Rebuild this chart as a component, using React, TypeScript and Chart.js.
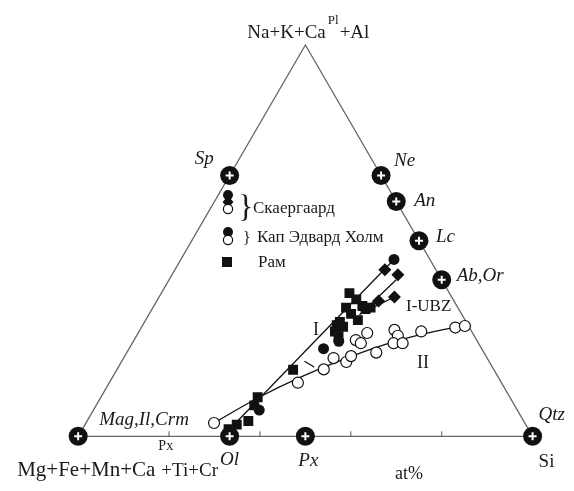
import { useEffect, useRef } from "react";
import { Chart, registerables } from "chart.js";
Chart.register(...registerables);

// Ternary compositions, at%: [Na+K+Ca(Pl)+Al, Si]; remainder = Mg+Fe+Mn+Ca(Px)+Ti+Cr
const skaergaardCircles = [[45.2, 46.9], [22.4, 42.8], [6.7, 36.5], [24.3, 45.2]];
const skaergaardDiamonds = [[42.6, 46.2], [41.3, 49.7], [35.6, 51.8], [34.6, 48.8]];
const ramSquares = [
  [36.6, 41.4], [35.0, 43.7], [32.9, 42.5], [33.3, 45.9], [32.5, 47.0], [32.9, 47.9],
  [31.3, 44.4], [29.7, 46.7], [29.2, 43.0], [28.4, 42.7], [28.0, 44.3], [26.8, 43.1],
  [25.6, 44.5], [17.0, 38.8], [10.0, 34.5], [7.9, 34.8], [3.9, 35.5], [3.0, 33.4], [1.8, 32.2],
];
const openCircles = [
  [3.4, 28.2], [13.7, 41.5], [17.1, 45.5], [20.0, 46.2], [19.0, 49.5], [20.5, 49.8],
  [24.6, 48.8], [23.8, 50.3], [26.4, 50.4], [21.4, 54.9], [27.2, 56.0], [25.7, 57.5],
  [23.8, 57.5], [23.8, 59.5], [26.8, 62.1], [27.8, 69.1], [28.2, 71.0],
];
const trendI = [[3.2, 32.9], [45.2, 46.9]];
const trendUBZa = [[31.0, 46.4], [40.0, 50.0]];
const trendUBZb = [[32.9, 48.4], [35.6, 51.8]];
const trendII = [[3.4, 28.2], [9.8, 34.6], [15.0, 41.2], [20.1, 49.3], [24.3, 57.8], [26.8, 65.1], [28.2, 71.0]];
const bracketTick = [[19.2, 40.2], [17.7, 43.1]];

const phaseNames = ["Mag,Il,Crm", "Sp", "Ne", "An", "Lc", "Ab,Or", "Ol", "Px", "Qtz"];
const phaseTop = [0, 66.67, 66.67, 60, 50, 40, 0, 0, 0];
const phaseSi = [0, 0, 33.33, 40, 50, 60, 33.33, 50, 100];
const baseTicks = [20, 40, 60, 80];
const vertexNames = ["Mg+Fe+Mn+Ca", "Px", "+Ti+Cr", "Na+K+Ca", "Pl", "+Al", "Si", "at%"];
const legendNames = ["Скаергаард", "Кап Эдвард Холм", "Рам"];
const curveNames = ["I", "II", "I-UBZ"];

const H = Math.sqrt(3) / 2;
const toXY = (p: number[]) => ({ x: p[1] / 100 + p[0] / 200, y: (p[0] / 100) * H });
const conv = (arr: number[][]) => arr.map(toXY);

export default function App() {
  const ref = useRef<HTMLCanvasElement>(null);
  useEffect(() => {
    document.body.style.margin = "0";
    const phasePts = phaseTop.map((t, i) => toXY([t, phaseSi[i]]));
    const serif = "'Liberation Serif', 'DejaVu Serif', serif";
    const labels = {
      id: "labels",
      afterDatasetsDraw(chart: any) {
        const ctx = chart.ctx as CanvasRenderingContext2D;
        const sx = chart.scales.x, sy = chart.scales.y;
        const P = (p: { x: number; y: number }) => [sx.getPixelForValue(p.x), sy.getPixelForValue(p.y)];
        ctx.save();
        ctx.fillStyle = "#1a1a1a";
        ctx.strokeStyle = "#555";
        ctx.lineWidth = 1;
        baseTicks.forEach((t) => {
          const [x, y] = P(toXY([0, t]));
          ctx.beginPath();
          ctx.moveTo(x, y);
          ctx.lineTo(x, y - 5);
          ctx.stroke();
        });
        const off: Record<string, [number, number, CanvasTextAlign]> = {
          "Mag,Il,Crm": [21, -11, "left"],
          Sp: [-16, -11, "right"],
          Ne: [13, -9, "left"],
          An: [18, 4, "left"],
          Lc: [17, 1, "left"],
          "Ab,Or": [15, 1, "left"],
          Ol: [0, 29, "center"],
          Px: [3, 30, "center"],
          Qtz: [6, -16, "left"],
        };
        ctx.font = `italic 19px ${serif}`;
        ctx.textBaseline = "alphabetic";
        phaseNames.forEach((n, i) => {
          const [x, y] = P(phasePts[i]);
          const o = off[n];
          ctx.textAlign = o[2];
          ctx.fillText(n, x + o[0], y + o[1]);
        });
        const [lx, ly] = P(toXY([0, 0]));
        const [rx, ry] = P(toXY([0, 100]));
        const [tx, ty] = P(toXY([100, 0]));
        ctx.textAlign = "left";
        // bottom-left vertex label
        ctx.font = `21px ${serif}`;
        const bx = lx - 61;
        ctx.fillText(vertexNames[0], bx, ly + 40);
        const w0 = ctx.measureText(vertexNames[0]).width;
        ctx.font = `14px ${serif}`;
        ctx.fillText(vertexNames[1], bx + w0 + 3, ly + 14);
        ctx.font = `19px ${serif}`;
        ctx.fillText(vertexNames[2], bx + w0 + 6, ly + 40);
        // top vertex label
        ctx.font = `19px ${serif}`;
        const topX = tx - 58;
        ctx.fillText(vertexNames[3], topX, ty - 7);
        const w3 = ctx.measureText(vertexNames[3]).width;
        ctx.font = `13px ${serif}`;
        ctx.fillText(vertexNames[4], topX + w3 + 2, ty - 21);
        const w4 = ctx.measureText(vertexNames[4]).width;
        ctx.font = `19px ${serif}`;
        ctx.fillText(vertexNames[5], topX + w3 + w4 + 3, ty - 7);
        ctx.font = `19px ${serif}`;
        ctx.fillText(vertexNames[6], rx + 6, ry + 31);
        ctx.font = `18px ${serif}`;
        ctx.textAlign = "center";
        ctx.fillText(vertexNames[7], 409, ry + 43);
        ctx.textAlign = "left";
        ctx.font = `18px ${serif}`;
        ctx.fillText(curveNames[0], 313, 335);
        ctx.fillText(curveNames[1], 417, 368);
        ctx.font = `17px ${serif}`;
        ctx.fillText(curveNames[2], 406, 311);
        // legend
        ctx.font = `17px ${serif}`;
        ctx.fillText(legendNames[0], 253, 213);
        ctx.fillText(legendNames[1], 257, 242);
        ctx.fillText(legendNames[2], 258, 267);
        ctx.font = `32px ${serif}`;
        ctx.fillText("}", 238, 217);
        ctx.font = `16px ${serif}`;
        ctx.fillText("}", 243, 243);
        ctx.fillStyle = "#111";
        ctx.strokeStyle = "#111";
        ctx.lineWidth = 1.2;
        ctx.beginPath(); ctx.arc(228, 195, 5, 0, Math.PI * 2); ctx.fill();
        ctx.beginPath(); ctx.moveTo(228, 196); ctx.lineTo(233.5, 202); ctx.lineTo(228, 208); ctx.lineTo(222.5, 202); ctx.closePath(); ctx.fill();
        ctx.fillStyle = "#fff";
        ctx.beginPath(); ctx.arc(228, 209, 4.6, 0, Math.PI * 2); ctx.fill(); ctx.stroke();
        ctx.fillStyle = "#111";
        ctx.beginPath(); ctx.arc(228, 232, 5, 0, Math.PI * 2); ctx.fill();
        ctx.fillStyle = "#fff";
        ctx.beginPath(); ctx.arc(228, 240, 4.6, 0, Math.PI * 2); ctx.fill(); ctx.stroke();
        ctx.fillStyle = "#111";
        ctx.fillRect(222, 257, 10, 10);
        ctx.restore();
      },
    };

    const lineDs = (arr: number[][], extra: any = {}) => ({
      type: "line" as const,
      data: conv(arr),
      borderColor: "#111",
      borderWidth: 1.3,
      pointRadius: 0,
      fill: false,
      clip: false as any,
      order: 5,
      ...extra,
    });

    const chart = new Chart(ref.current!, {
      type: "scatter",
      data: {
        datasets: [
          {
            type: "line",
            data: [toXY([0, 0]), toXY([0, 100]), toXY([100, 0]), toXY([0, 0])],
            borderColor: "#666",
            borderWidth: 1.3,
            pointRadius: 0,
            fill: false,
            clip: false as any,
            order: 10,
          },
          lineDs(trendI),
          lineDs(trendUBZa),
          lineDs(trendUBZb),
          lineDs(trendII, { tension: 0.4, cubicInterpolationMode: "monotone" }),
          lineDs(bracketTick),
          {
            data: conv(openCircles),
            pointStyle: "circle",
            pointRadius: 5.5,
            pointBackgroundColor: "#fff",
            pointBorderColor: "#111",
            pointBorderWidth: 1.2,
            order: 4,
          },
          {
            data: conv(ramSquares),
            pointStyle: "rect",
            pointRadius: 7,
            pointBackgroundColor: "#111",
            pointBorderColor: "#111",
            pointBorderWidth: 0,
            order: 3,
          },
          {
            data: conv(skaergaardDiamonds),
            pointStyle: "rectRot",
            pointRadius: 6.5,
            pointBackgroundColor: "#111",
            pointBorderColor: "#111",
            pointBorderWidth: 0,
            order: 3,
          },
          {
            data: conv(skaergaardCircles),
            pointStyle: "circle",
            pointRadius: 5.5,
            pointBackgroundColor: "#111",
            pointBorderColor: "#111",
            pointBorderWidth: 0,
            order: 3,
          },
          {
            data: phasePts,
            pointStyle: "circle",
            pointRadius: 9.5,
            pointBackgroundColor: "#111",
            pointBorderColor: "#111",
            pointBorderWidth: 0,
            clip: false as any,
            order: 2,
          },
          {
            data: phasePts,
            pointStyle: "cross",
            pointRadius: 4,
            pointBorderColor: "#fff",
            pointBorderWidth: 2,
            clip: false as any,
            order: 1,
          },
        ],
      },
      options: {
        animation: false,
        responsive: false,
        maintainAspectRatio: false,
        layout: { padding: 0 },
        plugins: { legend: { display: false }, tooltip: { enabled: false } },
        scales: {
          x: { type: "linear", display: false, min: -71 / 470, max: (574 - 71) / 470 },
          y: { type: "linear", display: false, min: (444 - 491) / 470, max: 444 / 470 },
        },
      },
      plugins: [labels],
    });
    return () => chart.destroy();
  }, []);
  return (
    <div style={{ position: "absolute", left: 0, top: 0, width: 574, height: 491, background: "#fff" }}>
      <canvas ref={ref} width={574} height={491} />
    </div>
  );
}
